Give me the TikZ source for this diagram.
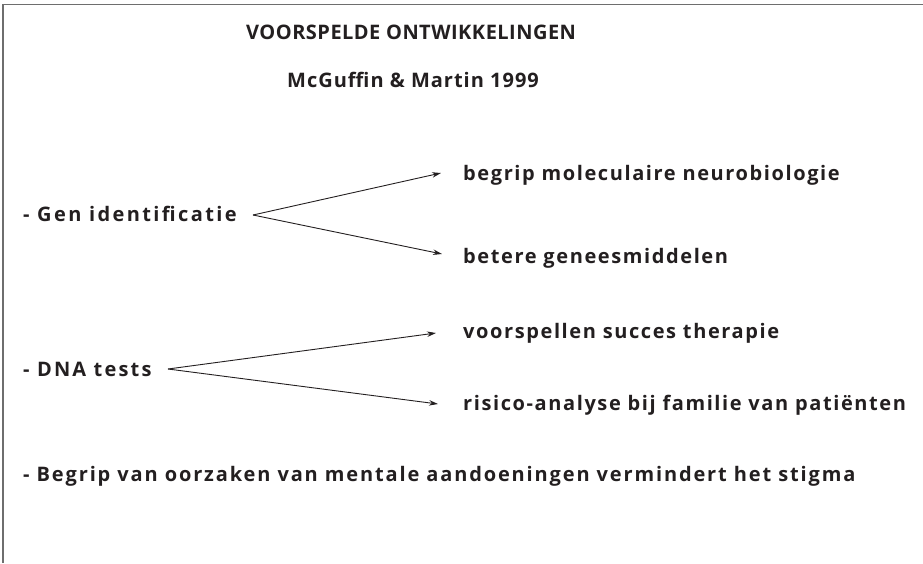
\documentclass[tikz,border=0pt]{standalone}
\usepackage{fontspec}
\setmainfont{Open Sans}[LetterSpace=8]
\usetikzlibrary{arrows.meta}
\definecolor{ink}{HTML}{231F20}
\definecolor{frame}{HTML}{6E6E6E}
\newcommand{\lsp}[1]{\addfontfeatures{LetterSpace=#1}}
\tikzset{
  lbl/.style={anchor=base west, inner sep=0pt, text=ink, font=\fontsize{20}{22}\selectfont\bfseries},
  arr/.style={draw=ink, line width=0.9pt, -{Stealth[length=9pt,width=5.5pt]}},
}
\begin{document}
\begin{tikzpicture}[x=1pt,y=-1pt]
\useasboundingbox (0,0) rectangle (923,563);
\draw[frame, line width=1.6pt] (3,563) -- (3,4.5) -- (923,4.5);
\node[lbl] (t1) at (246,39) {\lsp{2.4}VOORSPELDE ONTWIKKELINGEN};
\node[lbl] (t2) at (287,87) {\lsp{5}McGuffin \& Martin 1999};
\node[lbl] (g) at (23,221) {\lsp{12}- Gen identificatie};
\node[lbl] (b1) at (463,180) {begrip moleculaire neurobiologie};
\node[lbl] (b2) at (463,263) {betere geneesmiddelen};
\node[lbl] (d) at (23,376) {\lsp{11}- DNA tests};
\node[lbl] (v1) at (463,338) {voorspellen succes therapie};
\node[lbl] (r1) at (463,410) {risico-analyse bij familie van patiënten};
\node[lbl] (s) at (23,481) {\lsp{9.3}- Begrip van oorzaken van mentale aandoeningen vermindert het stigma};
\coordinate (gs) at (253,215);
\coordinate (ge1) at (441,173);
\coordinate (ge2) at (442,254);
\coordinate (ds) at (168,369);
\coordinate (de1) at (436,333);
\coordinate (de2) at (438,404);
\draw[arr] (gs) -- (ge1);
\draw[arr] (gs) -- (ge2);
\draw[arr] (ds) -- (de1);
\draw[arr] (ds) -- (de2);
\end{tikzpicture}
\end{document}
